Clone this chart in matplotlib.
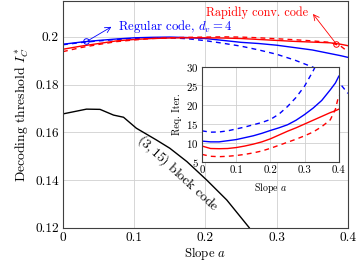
import matplotlib
matplotlib.use("Agg")
import matplotlib.pyplot as plt
import numpy as np

plt.rcParams['font.family'] = 'serif'
plt.rcParams['font.serif'] = ['cmr10', 'DejaVu Serif']
plt.rcParams['mathtext.fontset'] = 'cm'
plt.rcParams['axes.formatter.use_mathtext'] = True

# slope values shared by all curves
a = np.array([0, 0.025, 0.05, 0.075, 0.1, 0.125, 0.15, 0.175, 0.2, 0.225,
              0.25, 0.275, 0.3, 0.325, 0.35, 0.375, 0.39, 0.4])

# main plot: decoding thresholds
thr_reg = [0.1969, 0.1978, 0.1985, 0.1991, 0.1996, 0.1998, 0.1999, 0.1997, 0.1993, 0.1985,
           0.1977, 0.1972, 0.1965, 0.1955, 0.1945, 0.1930, 0.1921, 0.1914]
thr_reg_d = [0.1967, 0.1976, 0.1983, 0.1989, 0.1993, 0.1996, 0.1996, 0.1992, 0.1984, 0.1973,
             0.1961, 0.1945, 0.1927, 0.1903, 0.1874, 0.1845, 0.1800, 0.1763]
thr_rap = [0.1948, 0.1961, 0.1972, 0.1983, 0.1989, 0.1993, 0.1995, 0.1996, 0.1996, 0.1995,
           0.1993, 0.1989, 0.1985, 0.1981, 0.1978, 0.1975, 0.1969, 0.1963]
thr_rap_d = [0.1938, 0.1955, 0.1968, 0.1980, 0.1987, 0.1993, 0.1996, 0.1998, 0.1999, 0.2000,
             0.1999, 0.1996, 0.1992, 0.1988, 0.1983, 0.1977, 0.1961, 0.1938]

# (3,15) block code
a_blk = [0, 0.033, 0.052, 0.071, 0.085, 0.103, 0.131, 0.150, 0.174, 0.2017, 0.23, 0.2615]
thr_blk = [0.1677, 0.1697, 0.1696, 0.1672, 0.1663, 0.1617, 0.1568, 0.1533, 0.1477, 0.1400,
           0.1316, 0.1200]

# inset: required iterations
it_reg = [10.5, 10.3, 10.3, 10.6, 10.9, 11.4, 11.9, 12.55, 13.3, 14.0,
          14.8, 16.0, 17.5, 19.2, 21.2, 24.0, 25.8, 27.6]
it_reg_d = [13.2, 12.85, 12.9, 13.2, 13.7, 14.2, 14.8, 15.4, 16.2, 17.6,
            19.6, 22.0, 25.0, 29.0, 33.5, np.nan, np.nan, np.nan]
it_rap = [9.2, 8.55, 8.5, 8.55, 8.8, 9.2, 9.7, 10.3, 11.1, 12.1,
          13.1, 14.0, 15.0, 16.0, 17.0, 18.0, 18.5, 18.9]
it_rap_d = [7.0, 6.5, 6.4, 6.5, 6.7, 7.0, 7.4, 7.9, 8.6, 9.4,
            10.2, 11.0, 11.9, 12.9, 14.3, 16.1, 18.9, 22.6]

xticks = [0, 0.1, 0.2, 0.3, 0.4]
xtick_labels = ['0', '0.1', '0.2', '0.3', '0.4']
yticks = [0.12, 0.14, 0.16, 0.18, 0.2]
ytick_labels = ['0.12', '0.14', '0.16', '0.18', '0.2']
in_yticks = [5, 10, 15, 20, 25, 30]

fig = plt.figure(figsize=(3.62, 2.66), dpi=100)
ax = fig.add_axes([0.174, 0.144, 0.787, 0.852])

ax.plot(a_blk, thr_blk, color='black', lw=1.0)
ax.plot(a, thr_reg, color='blue', lw=1.0)
ax.plot(a, thr_reg_d, color='blue', lw=1.0, ls=(0, (3.5, 3)))
ax.plot(a, thr_rap, color='red', lw=1.0)
ax.plot(a, thr_rap_d, color='red', lw=1.0, ls=(0, (3.5, 3)))

# markers + arrows to labels
ax.plot([0.033], [0.1982], 'o', mfc='none', mec='blue', ms=4, mew=0.7)
ax.plot([0.384], [0.1971], 'o', mfc='none', mec='red', ms=4, mew=0.7)
ax.annotate('', xy=(0.068, 0.2042), xytext=(0.035, 0.1984),
            arrowprops=dict(arrowstyle='->', color='blue', lw=0.6, shrinkA=0, shrinkB=0))
ax.annotate('', xy=(0.351, 0.2096), xytext=(0.383, 0.1973),
            arrowprops=dict(arrowstyle='->', color='red', lw=0.6, shrinkA=0, shrinkB=0))
ax.text(0.0777, 0.2045, 'Regular code, $d_v = 4$', color='blue', fontsize=9.2,
        ha='left', va='center')
ax.text(0.344, 0.2101, 'Rapidly conv. code', color='red', fontsize=8.8,
        ha='right', va='center')
ax.text(0.1607, 0.1428, '$(3,15)$ block code', fontsize=9.8, rotation=-42.5,
        rotation_mode='anchor', ha='center', va='center')

ax.set_xlim(0, 0.4)
ax.set_ylim(0.12, 0.215)
ax.set_xticks(xticks)
ax.set_xticklabels(xtick_labels)
ax.set_yticks(yticks)
ax.set_yticklabels(ytick_labels)
ax.tick_params(labelsize=9.6, length=0, pad=3)
ax.grid(True, color='#d0d0d0', lw=0.6)
ax.set_axisbelow(True)
for s in ax.spines.values():
    s.set_color('#404040')
    s.set_linewidth(0.8)
ax.set_xlabel('Slope $a$', fontsize=9.2, labelpad=1)
ax.set_ylabel('Decoding threshold $I_C^*$', fontsize=9.8, labelpad=3)

# inset
ins = fig.add_axes([0.558, 0.391, 0.378, 0.357])
ins.set_facecolor('white')
ins.plot(a, it_reg, color='blue', lw=1.0)
ins.plot(a, it_reg_d, color='blue', lw=1.0, ls=(0, (3.5, 3)))
ins.plot(a, it_rap, color='red', lw=1.0)
ins.plot(a, it_rap_d, color='red', lw=1.0, ls=(0, (3.5, 3)))
ins.set_xlim(0, 0.4)
ins.set_ylim(5, 30)
ins.set_xticks(xticks)
ins.set_xticklabels(xtick_labels)
ins.set_yticks(in_yticks)
ins.tick_params(labelsize=7.8, length=0, pad=2.5)
ins.grid(True, color='#d0d0d0', lw=0.6)
ins.set_axisbelow(True)
for s in ins.spines.values():
    s.set_color('#404040')
    s.set_linewidth(0.8)
ins.set_xlabel('Slope $a$', fontsize=7.2, labelpad=4)
ins.set_ylabel('Req. Iter.', fontsize=7.2, labelpad=3)

fig.savefig('out.png', dpi=100)
